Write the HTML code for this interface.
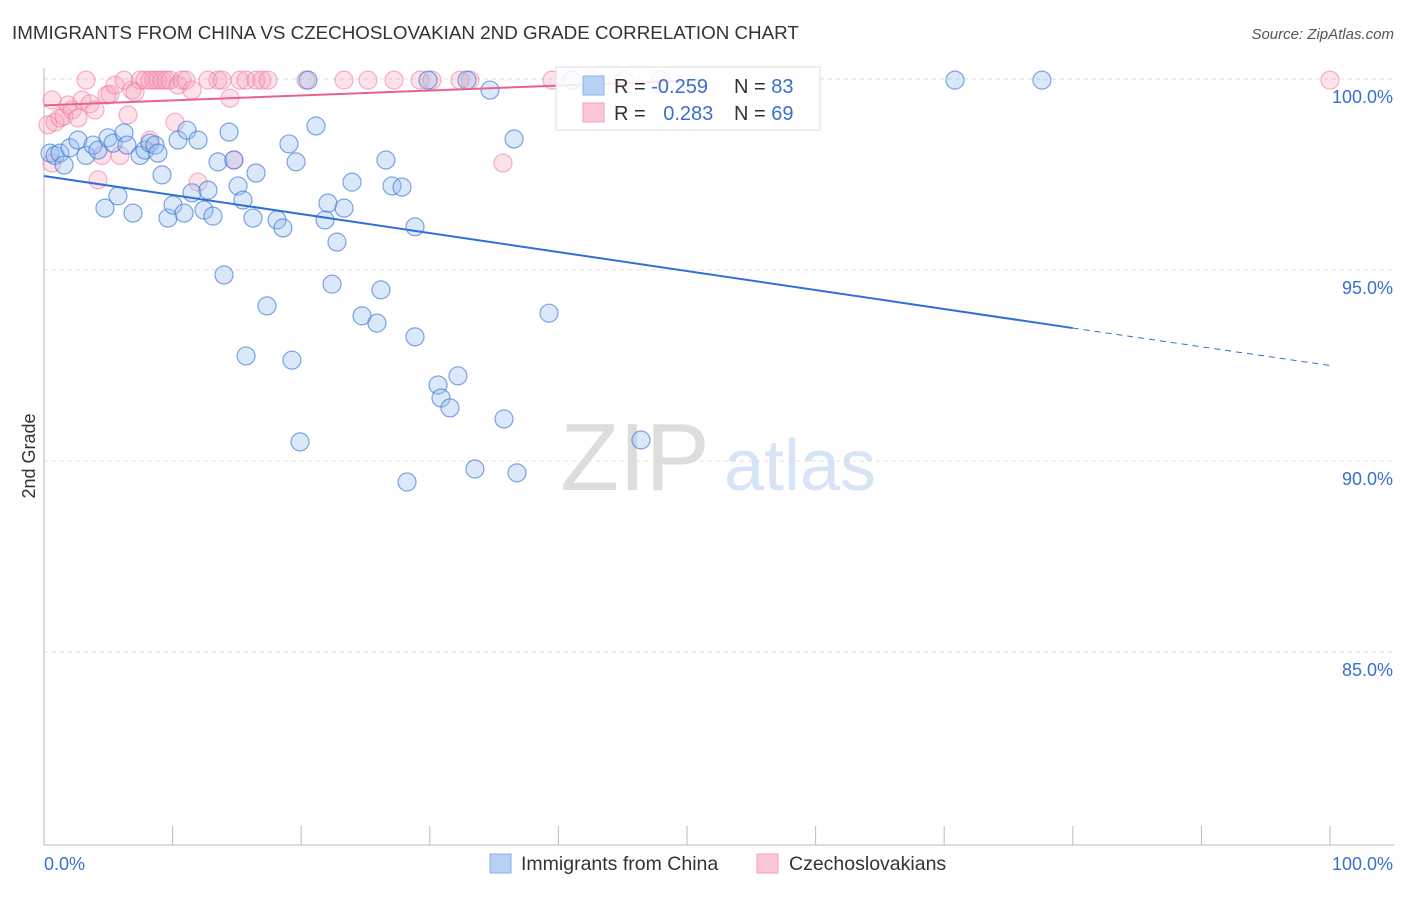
<!DOCTYPE html>
<html><head><meta charset="utf-8"><style>
body{margin:0;background:#fff;font-family:"Liberation Sans",sans-serif;}
svg text{font-family:"Liberation Sans",sans-serif;}
</style></head><body>
<svg id="c" width="1406" height="892">
<text x="12" y="39" font-size="18.8" fill="#333">IMMIGRANTS FROM CHINA VS CZECHOSLOVAKIAN 2ND GRADE CORRELATION CHART</text>
<text x="1394" y="39" font-size="15" fill="#555" text-anchor="end" font-style="italic">Source: ZipAtlas.com</text>
<text x="35" y="456" font-size="18" fill="#333" text-anchor="middle" transform="rotate(-90 35 456)">2nd Grade</text>
<g><text x="635" y="490" font-size="96" fill="#ddd" font-family="Liberation Serif" text-anchor="middle">ZIP</text><text x="800" y="490" font-size="72" fill="#d6e4f5" text-anchor="middle">atlas</text></g>
<g id="grid"></g><g id="marks"></g>
<g>
<rect x="556" y="67" width="264" height="63" fill="#fff" fill-opacity="0.85" stroke="#ddd"/>
<rect x="583" y="76" width="21" height="19" fill="#b8d2f5" stroke="#8ab0e8"/>
<rect x="583" y="103" width="21" height="19" fill="#fbc6d6" stroke="#f0a0b8"/>
<text x="614" y="93" font-size="20" fill="#333">R = <tspan fill="#3a6fd0">-0.259</tspan></text>
<text x="734" y="93" font-size="20" fill="#333">N = <tspan fill="#3a6fd0">83</tspan></text>
<text x="614" y="120" font-size="20" fill="#333">R = <tspan fill="#3a6fd0" dx="12">0.283</tspan></text>
<text x="734" y="120" font-size="20" fill="#333">N = <tspan fill="#3a6fd0">69</tspan></text>
</g>
<g>
<rect x="490" y="854" width="21" height="19" fill="#b8d2f5" stroke="#8ab0e8"/>
<text x="521" y="870" font-size="19.5" fill="#333">Immigrants from China</text>
<rect x="757" y="854" width="21" height="19" fill="#fbc6d6" stroke="#f0a0b8"/>
<text x="789" y="870" font-size="19.5" fill="#333">Czechoslovakians</text>
</g>
</svg>
<script>
const blueX=[.47,.86,1.24,1.56,2.02,2.64,3.27,3.81,4.2,4.74,4.98,5.37,5.75,6.22,6.45,6.92,7.47,7.85,8.24,8.63,8.86,9.18,9.64,10.03,10.42,10.89,11.12,11.51,11.98,12.44,12.75,13.14,13.53,14.0,14.39,14.77,15.09,15.47,15.71,16.25,16.49,17.34,18.12,18.58,19.05,19.28,19.6,19.91,20.53,21.15,21.85,22.08,22.4,22.78,23.33,23.95,24.73,25.89,26.2,26.59,27.06,27.84,28.23,28.85,28.85,29.86,30.64,30.87,31.57,32.19,32.89,33.51,34.68,35.77,36.55,36.78,39.27,41.06,46.42,70.84,77.6];
const blueY=[98.06,98.0,98.06,97.75,98.2,98.4,98.0,98.27,98.14,96.62,98.46,98.32,96.94,98.59,98.27,96.49,98.0,98.14,98.32,98.27,98.06,97.49,96.36,96.7,98.4,96.49,98.66,97.02,98.4,96.57,97.09,96.41,97.83,94.87,98.61,97.88,97.2,96.83,92.75,96.36,97.54,94.06,96.31,96.1,98.3,92.64,97.83,90.5,99.97,98.77,96.31,96.75,94.63,95.73,96.62,97.3,93.8,93.61,94.48,97.88,97.2,97.17,89.45,93.25,96.13,99.97,91.99,91.65,91.39,92.23,99.97,89.79,99.71,91.1,98.43,89.69,93.87,99.97,90.55,99.97,99.97];
const pinkX=[.31,.62,.86,1.24,1.56,1.87,2.18,2.64,2.95,3.27,3.58,3.97,4.2,4.51,4.9,5.13,5.52,5.91,6.22,6.53,6.84,7.08,7.47,7.85,8.24,8.55,8.86,9.18,9.49,9.8,10.19,10.42,10.73,11.04,11.51,11.98,12.75,13.53,13.84,14.46,14.77,15.24,15.71,16.49,16.95,17.42,20.37,23.33,25.19,27.22,29.24,30.17,32.35,33.13,35.69,39.5,42.69,45.1,47.9,100,8.24,.62];
const pinkY=[98.8,97.8,98.87,98.98,99.03,99.32,99.19,98.98,99.45,99.97,99.35,99.19,97.36,98.0,99.58,99.6,99.84,98.0,99.97,99.06,99.71,99.66,99.97,99.97,99.97,99.97,99.97,99.97,99.97,99.97,98.87,99.84,99.97,99.97,99.71,97.3,99.97,99.97,99.97,99.5,97.88,99.97,99.97,99.97,99.97,99.97,99.97,99.97,99.97,99.97,99.97,99.97,99.97,99.97,97.8,99.97,99.97,99.97,99.97,99.97,98.4,99.45];
const yTicks=[100,95,90,85];
const yTickLabels=["100.0%","95.0%","90.0%","85.0%"];
const xTicks=[0,10,20,30,40,50,60,70,80,90,100];
const blueTrend=[97.46,93.48,92.5]; // at x=0, 80, 100
const pinkTrend=[99.31,99.97]; // at x=0, 51
const NS="http://www.w3.org/2000/svg";
const sx=v=>44+v*12.86, sy=v=>79+(100-v)*38.2;
function mk(t,a,p){const e=document.createElementNS(NS,t);for(const k in a)e.setAttribute(k,a[k]);p.appendChild(e);return e;}
const g=document.getElementById('grid'),m=document.getElementById('marks');
yTicks.forEach((v,i)=>{
 const l=mk('line',{x1:44,x2:1394,y1:sy(v),y2:sy(v),stroke:'#ddd','stroke-dasharray':'4,4'},g);
 
 
 const t=mk('text',{x:1393,y:sy(v)+24,'font-size':18,fill:'#3a6fd0','text-anchor':'end'},g);
 t.textContent=yTickLabels[i];
 
 
});
const ax=mk('line',{x1:44,x2:1394,y1:845,y2:845,stroke:'#bbb'},g);


const ay=mk('line',{x1:44,x2:44,y1:68,y2:845,stroke:'#bbb'},g);


xTicks.forEach(v=>{const l=mk('line',{x1:sx(v),x2:sx(v),y1:826,y2:845,stroke:'#bbb'},g);
 
 });
const t0=mk('text',{x:44,y:870,'font-size':18,fill:'#3a6fd0'},g);t0.textContent='0.0%';


const t1=mk('text',{x:1393,y:870,'font-size':18,fill:'#3a6fd0','text-anchor':'end'},g);t1.textContent='100.0%';


pinkX.forEach((x,i)=>{const c=mk('circle',{cx:sx(x),cy:sy(pinkY[i]),r:9,fill:'rgba(248,160,186,0.3)',stroke:'rgba(235,120,155,0.55)','stroke-width':1.2},m);
 
 });
blueX.forEach((x,i)=>{const c=mk('circle',{cx:sx(x),cy:sy(blueY[i]),r:9,fill:'rgba(150,190,240,0.35)',stroke:'rgba(60,120,210,0.65)','stroke-width':1.2},m);
 
 });
const b1=mk('line',{x1:sx(0),y1:sy(blueTrend[0]),x2:sx(80),y2:sy(blueTrend[1]),stroke:'#2f6fd6','stroke-width':2},m);


const b2=mk('line',{x1:sx(80),y1:sy(blueTrend[1]),x2:sx(100),y2:sy(blueTrend[2]),stroke:'#2f6fd6','stroke-width':1,'stroke-dasharray':'6,5'},m);


const p1=mk('line',{x1:sx(0),y1:sy(pinkTrend[0]),x2:sx(51),y2:sy(pinkTrend[1]),stroke:'#e8638c','stroke-width':2},m);


</script>
</body></html>
